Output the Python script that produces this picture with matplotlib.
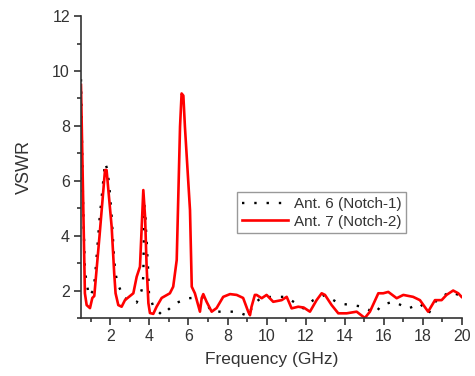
import matplotlib.pyplot as plt
import numpy as np
from matplotlib.ticker import MultipleLocator

plt.rcParams['font.family'] = ['Liberation Sans', 'DejaVu Sans']
plt.rcParams['font.size'] = 11.5

# Ant. 7 (Notch-2), solid red
f7 = [0.5, 0.7, 0.79, 0.96, 1.08, 1.18, 1.45, 1.73, 1.81, 2.07, 2.2, 2.27, 2.41,
      2.58, 2.75, 3.18, 3.35, 3.52, 3.69, 3.78, 3.86, 3.95, 4.03, 4.2, 4.37, 4.63,
      5.05, 5.22, 5.4, 5.57, 5.65, 5.74, 5.82, 6.08, 6.17, 6.33, 6.59, 6.68, 6.76,
      6.93, 7.19, 7.44, 7.78, 8.13, 8.47, 8.8, 9.06, 9.15, 9.23, 9.4, 9.49, 9.75,
      10.0, 10.34, 10.77, 11.03, 11.28, 11.62, 11.9, 12.22, 12.56, 12.82, 12.99,
      13.33, 13.67, 14.1, 14.61, 15.03, 15.29, 15.72, 15.97, 16.23, 16.66, 17.0,
      17.5, 17.85, 18.27, 18.62, 18.96, 19.21, 19.55, 19.81, 19.98]
vswr7 = [9.49, 1.9, 1.47, 1.36, 1.73, 1.8, 4.0, 6.39, 6.39, 4.32, 2.63, 1.9, 1.47,
         1.41, 1.65, 1.9, 2.5, 2.87, 5.66, 4.7, 2.87, 1.54, 1.18, 1.15, 1.41, 1.73,
         1.9, 2.14, 3.11, 7.97, 9.18, 9.1, 7.97, 4.93, 2.14, 1.9, 1.23, 1.73, 1.87,
         1.59, 1.23, 1.36, 1.77, 1.87, 1.84, 1.73, 1.23, 1.1, 1.41, 1.84, 1.84, 1.72,
         1.84, 1.59, 1.65, 1.77, 1.35, 1.41, 1.38, 1.23, 1.65, 1.9, 1.84,
         1.47, 1.17, 1.17, 1.23, 1.0, 1.23, 1.9, 1.9, 1.95, 1.72, 1.84,
         1.77, 1.65, 1.23, 1.65, 1.65, 1.84, 2.0, 1.9, 1.77]

# Ant. 6 (Notch-1), black dotted
f6 = [0.5, 0.6, 0.7, 0.79, 0.91, 1.13, 1.22, 1.45, 1.73, 1.86, 1.98, 2.07, 2.2,
      2.27, 2.33, 2.44, 2.72, 3.35, 3.6, 3.69, 3.74, 3.8, 3.83, 3.87, 3.9, 3.93,
      3.98, 4.2, 4.66, 5.31, 5.99, 6.71, 7.19, 7.78, 8.47, 9.06, 9.32, 9.75, 10.34,
      11.0, 11.88, 12.39, 12.99, 13.7, 14.35, 14.95, 15.55, 15.89, 16.5, 17.25,
      17.85, 18.3, 18.7, 19.38, 20.0]
vswr6 = [9.7, 5.4, 2.75, 2.27, 1.8, 2.0, 2.5, 4.6, 6.66, 6.39, 5.55, 4.7, 3.11,
         2.63, 2.4, 2.14, 1.72, 1.56, 2.0, 2.5, 5.1, 4.7, 4.2, 3.72, 3.23, 2.87,
         1.9, 1.41, 1.1, 1.53, 1.72, 1.75, 1.23, 1.23, 1.23, 1.07, 1.5, 1.75, 1.77,
         1.77, 1.35, 1.65, 1.84, 1.53, 1.47, 1.41, 1.17, 1.47, 1.6, 1.34,
         1.53, 1.17, 1.65, 1.95, 1.8]

fig = plt.figure(figsize=(4.75, 3.76), dpi=100)
ax = fig.add_axes([0.1705, 0.1543, 0.802, 0.803])

ax.plot(f6, vswr6, color='black', lw=1.7, linestyle=(0, (1, 4.2)),
        label='Ant. 6 (Notch-1)')
ax.plot(f7, vswr7, color='red', lw=1.9, label='Ant. 7 (Notch-2)')

ax.set_xlim(0.5, 20)
ax.set_ylim(1, 12)
ax.xaxis.set_major_locator(MultipleLocator(2))
ax.xaxis.set_minor_locator(MultipleLocator(1))
ax.yaxis.set_major_locator(MultipleLocator(2))
ax.yaxis.set_minor_locator(MultipleLocator(1))
ax.tick_params(which='major', direction='out', length=5, width=1.2, colors='#333333')
ax.tick_params(which='minor', direction='out', length=3, width=1.2, colors='#333333')
ax.tick_params(labelcolor='#333333', pad=3)
for s in ['top', 'right']:
    ax.spines[s].set_visible(False)
for s in ['left', 'bottom']:
    ax.spines[s].set_linewidth(1.2)
    ax.spines[s].set_color('#333333')

ax.set_xlabel('Frequency (GHz)', color='#333333', fontsize=12.5, labelpad=6)
ax.set_ylabel('VSWR', color='#333333', fontsize=13, labelpad=14)

leg = ax.legend(loc='upper left', bbox_to_anchor=(0.41, 0.416), fancybox=False,
                framealpha=1, edgecolor='#999999', handlelength=3, fontsize=11,
                borderpad=0.3, labelspacing=0.25, handletextpad=0.4,
                borderaxespad=0)
for t in leg.get_texts():
    t.set_color('#333333')

fig.savefig('out.png', dpi=100)
